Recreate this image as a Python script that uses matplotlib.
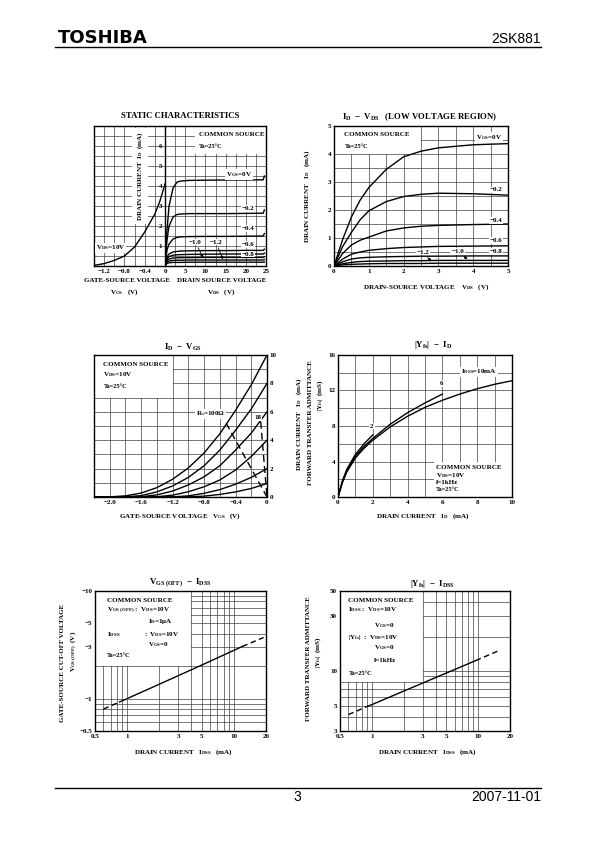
import numpy as np
import matplotlib
matplotlib.use("Agg")
import matplotlib.pyplot as plt
from matplotlib.patches import Rectangle
from matplotlib.lines import Line2D
from matplotlib.ticker import NullFormatter

plt.rcParams['font.family'] = 'Liberation Serif'
plt.rcParams['font.weight'] = 'bold'
plt.rcParams['mathtext.fontset'] = 'custom'
plt.rcParams['mathtext.rm'] = 'Liberation Serif:bold'
plt.rcParams['mathtext.it'] = 'Liberation Serif:italic:bold'
plt.rcParams['mathtext.bf'] = 'Liberation Serif:bold'

# ---- data ----
# static characteristics, left part: ID vs VGS at VDS = 10 V
st_vgs = [-1.4, -1.2, -1.0, -0.8, -0.6, -0.4, -0.2, -0.1, 0.0]
st_id = [0.03, 0.12, 0.28, 0.5, 0.95, 1.7, 2.6, 3.25, 4.1]

# static characteristics, right part: ID vs VDS
st_vds = [0, 0.5, 1, 2, 3, 4, 6, 10, 15, 20, 24.3, 24.6]
st_curves = {
    "0": [0, 1.8, 3.0, 3.9, 4.2, 4.25, 4.28, 4.29, 4.3, 4.3, 4.31, 4.5],
    "-0.2": [0, 1.3, 2.0, 2.45, 2.58, 2.6, 2.62, 2.62, 2.62, 2.63, 2.64, 2.8],
    "-0.4": [0, 0.8, 1.1, 1.35, 1.43, 1.46, 1.47, 1.48, 1.48, 1.49, 1.5, 1.62],
    "-0.6": [0, 0.45, 0.6, 0.7, 0.73, 0.75, 0.76, 0.77, 0.77, 0.78, 0.78, 0.84],
    "-0.8": [0, 0.35, 0.47, 0.54, 0.56, 0.57, 0.58, 0.59, 0.6, 0.6, 0.6, 0.64],
    "-0.9": [0, 0.27, 0.35, 0.4, 0.41, 0.42, 0.42, 0.43, 0.43, 0.43, 0.43, 0.46],
    "-1.0": [0, 0.2, 0.25, 0.28, 0.29, 0.29, 0.3, 0.3, 0.3, 0.3, 0.3, 0.32],
    "-1.2": [0, 0.13, 0.16, 0.18, 0.18, 0.18, 0.19, 0.19, 0.19, 0.19, 0.19, 0.2],
}

# ID - VDS low voltage region
lv_vds = [0, 0.25, 0.5, 0.75, 1, 1.5, 2, 2.5, 3, 4, 5]
lv_curves = {
    "0": [0, 0.95, 1.75, 2.35, 2.8, 3.45, 3.9, 4.1, 4.22, 4.33, 4.37],
    "-0.2": [0, 0.7, 1.2, 1.65, 1.97, 2.3, 2.48, 2.56, 2.6, 2.58, 2.53],
    "-0.4": [0, 0.45, 0.75, 0.92, 1.03, 1.25, 1.36, 1.42, 1.45, 1.48, 1.5],
    "-0.6": [0, 0.25, 0.42, 0.5, 0.56, 0.62, 0.66, 0.68, 0.7, 0.71, 0.72],
    "-0.8": [0, 0.15, 0.25, 0.29, 0.31, 0.33, 0.34, 0.35, 0.35, 0.36, 0.36],
    "-1.0": [0, 0.08, 0.13, 0.16, 0.17, 0.18, 0.19, 0.19, 0.2, 0.2, 0.2],
    "-1.2": [0, 0.04, 0.06, 0.07, 0.08, 0.09, 0.09, 0.09, 0.1, 0.1, 0.1],
}

# ID - VGS for several IDSS
tr_vgs = [-2.2, -2.0, -1.8, -1.6, -1.4, -1.2, -1.0, -0.8, -0.6, -0.4, -0.2, 0.0]
tr_curves = [
    [0, 0.01, 0.08, 0.28, 0.66, 1.25, 2.05, 3.1, 4.45, 6.1, 7.9, 10.0],
    [0, 0, 0.01, 0.1, 0.36, 0.78, 1.38, 2.2, 3.3, 4.7, 6.2, 8.0],
    [0, 0, 0, 0.02, 0.15, 0.42, 0.85, 1.42, 2.2, 3.3, 4.5, 6.0],
    [0, 0, 0, 0, 0.02, 0.13, 0.37, 0.72, 1.2, 1.9, 2.85, 4.0],
    [0, 0, 0, 0, 0, 0.01, 0.08, 0.26, 0.52, 0.9, 1.38, 2.0],
    [0, 0, 0, 0, 0, 0, 0.01, 0.06, 0.18, 0.36, 0.6, 0.95],
]
rs100_vgs = [-0.52, 0.0]
rs100_id = [5.2, 0.0]
rs18_vgs = [-0.08, 0.0]
rs18_id = [5.3, 0.0]

# |Yfs| - ID
yf_id10 = [0, 0.25, 0.5, 1, 1.5, 2, 3, 4, 5, 6, 7, 8, 9, 10]
yf_10 = [0, 1.6, 2.8, 4.4, 5.5, 6.4, 7.9, 9.1, 10.1, 10.9, 11.6, 12.2, 12.7, 13.1]
yf_id6 = [0, 0.25, 0.5, 1, 1.5, 2, 3, 4, 5, 6]
yf_6 = [0, 1.7, 2.9, 4.6, 5.7, 6.6, 8.2, 9.5, 10.6, 11.6]
yf_id2 = [0, 0.25, 0.5, 1, 1.5, 2]
yf_2 = [0, 1.8, 3.1, 4.8, 6.0, 7.0]

# VGS(OFF) - IDSS  (magnitude of VGS(OFF))
off_idss = [0.6, 0.85, 1, 2, 5, 12, 19]
off_vgs = [0.8, 0.93, 1.0, 1.36, 2.05, 3.05, 3.7]

# |Yfs| - IDSS
ys_idss = [0.6, 0.92, 1, 2, 3, 5, 9.5, 16]
ys_yfs = [4.17, 4.95, 5.1, 6.7, 7.85, 9.6, 12.35, 15.2]

W, H = 595, 842
fig = plt.figure(figsize=(W / 100, H / 100), dpi=100)
FS = 5.0
TS = 6.3
BOX = dict(fc='white', ec='none', pad=0.6)
ARROW = dict(arrowstyle='-|>', lw=0.6, color='black', mutation_scale=4)


def axes_px(x0, y0, x1, y1):
    return fig.add_axes([x0 / W, 1 - y1 / H, (x1 - x0) / W, (y1 - y0) / H])


def ftext(x, y, s, **kw):
    kw.setdefault('fontsize', FS)
    fig.text(x / W, 1 - y / H, s, ha=kw.pop('ha', 'center'), va=kw.pop('va', 'center'), **kw)


def style(ax, xt, xl, yt, yl, xg, yg):
    ax.set_xticks(xt)
    ax.set_xticklabels(xl)
    ax.set_yticks(yt)
    ax.set_yticklabels(yl)
    ax.set_xticks(xg, minor=True)
    ax.set_yticks(yg, minor=True)
    ax.xaxis.set_minor_formatter(NullFormatter())
    ax.yaxis.set_minor_formatter(NullFormatter())
    ax.tick_params(which='both', length=0, labelsize=FS, pad=2)
    ax.grid(which='both', color='#404040', lw=0.5)
    ax.set_axisbelow(True)
    for s in ax.spines.values():
        s.set_linewidth(1.0)


def whitebox(ax, x0, y0, x1, y1):
    ax.add_patch(Rectangle((x0, y0), x1 - x0, y1 - y0, fc='white', ec='none', zorder=1))


def neg(vals):
    return ["0" if v == 0 else "\u2212" + f"{abs(v):g}" for v in vals]


LW = 1.0

# ---------- chart 1: static characteristics ----------
a1 = axes_px(94, 126, 165, 266)
a1.set_xlim(-1.4, 0)
a1.set_ylim(0, 7)
style(a1, [-1.2, -0.8, -0.4], ["\u22121.2", "\u22120.8", "\u22120.4"], [], [],
      np.arange(-1.4, 0.01, 0.2), np.arange(0, 7.01, 0.5))
a1.spines['right'].set_visible(False)
a1.plot(st_vgs, st_id, color='black', lw=LW)
a1.text(-1.36, 0.9, r"V$_{\rm DS}$=10V", fontsize=FS, va='center', bbox=BOX)
a1.text(-0.49, 4.5, r"DRAIN CURRENT  I$_{\rm D}$  (mA)", fontsize=FS, rotation=90,
        ha='center', va='center', bbox=dict(fc='white', ec='none', pad=2.5))

b1 = axes_px(165, 126, 266, 266)
b1.set_xlim(0, 25)
b1.set_ylim(0, 7)
style(b1, [0, 5, 10, 15, 20, 25], ["0", "5", "10", "15", "20", "25"],
      [1, 2, 3, 4, 5, 6], ["1", "2", "3", "4", "5", "6"],
      np.arange(0, 25.1, 2.5), np.arange(0, 7.01, 0.5))
b1.set_facecolor('none')
for k, v in st_curves.items():
    b1.plot(st_vds, v, color='black', lw=LW)
whitebox(b1, 7.5, 5.6, 25, 7)
b1.text(8.5, 6.6, "COMMON SOURCE", fontsize=FS, va='center')
b1.text(8.5, 6.0, "Ta=25\u00b0C", fontsize=FS - 0.4, va='center')
b1.text(18.3, 4.57, r"V$_{\rm GS}$=0V", fontsize=FS, ha='center', va='center', bbox=BOX)
b1.text(20.6, 2.87, "\u22120.2", fontsize=FS, ha='center', va='center', bbox=BOX)
b1.text(20.6, 1.87, "\u22120.4", fontsize=FS, ha='center', va='center', bbox=BOX)
b1.text(20.6, 1.07, "\u22120.6", fontsize=FS, ha='center', va='center', bbox=BOX)
b1.text(20.6, 0.6, "\u22120.8", fontsize=FS, ha='center', va='center', bbox=BOX)
b1.annotate("\u22121.0", xy=(9.75, 0.28), xytext=(7.5, 1.2), fontsize=FS, ha='center',
            va='center', bbox=BOX, arrowprops=ARROW)
b1.annotate("\u22121.2", xy=(14.6, 0.2), xytext=(12.6, 1.2), fontsize=FS, ha='center',
            va='center', bbox=BOX, arrowprops=ARROW)
ftext(180, 116, "STATIC CHARACTERISTICS", fontsize=TS)
ftext(127, 280, "GATE-SOURCE VOLTAGE")
ftext(124, 292, r"V$_{\rm GS}$   (V)")
ftext(222, 280, "DRAIN SOURCE VOLTAGE")
ftext(221, 292, r"V$_{\rm DS}$   (V)")

# ---------- chart 2: ID - VDS low voltage ----------
a2 = axes_px(334, 126, 508, 266)
a2.set_xlim(0, 5)
a2.set_ylim(0, 5)
style(a2, range(6), [str(i) for i in range(6)], range(6), [str(i) for i in range(6)],
      np.arange(0, 5.01, 0.5), np.arange(0, 5.01, 0.5))
for k, v in lv_curves.items():
    a2.plot(lv_vds, v, color='black', lw=LW)
whitebox(a2, 0, 4, 2.5, 5)
a2.text(0.3, 4.68, "COMMON SOURCE", fontsize=FS, va='center')
a2.text(0.3, 4.25, "Ta=25\u00b0C", fontsize=FS - 0.4, va='center')
a2.text(4.45, 4.58, r"V$_{\rm GS}$=0V", fontsize=FS, ha='center', va='center', bbox=BOX)
a2.text(4.65, 2.72, "\u22120.2", fontsize=FS, ha='center', va='center', bbox=BOX)
a2.text(4.65, 1.63, "\u22120.4", fontsize=FS, ha='center', va='center', bbox=BOX)
a2.text(4.65, 0.9, "\u22120.6", fontsize=FS, ha='center', va='center', bbox=BOX)
a2.text(4.65, 0.52, "\u22120.8", fontsize=FS, ha='center', va='center', bbox=BOX)
a2.annotate("\u22121.0", xy=(3.9, 0.18), xytext=(3.55, 0.52), fontsize=FS, ha='center',
            va='center', bbox=BOX, arrowprops=ARROW)
a2.annotate("\u22121.2", xy=(2.85, 0.09), xytext=(2.55, 0.5), fontsize=FS, ha='center',
            va='center', bbox=BOX, arrowprops=ARROW)
ftext(420, 117, r"I$_{\rm D}$  $-$  V$_{\rm DS}$   (LOW VOLTAGE REGION)", fontsize=TS)
ftext(426, 287, r"DRAIN-SOURCE VOLTAGE    V$_{\rm DS}$   (V)")
ftext(307, 196, r"DRAIN CURRENT   I$_{\rm D}$   (mA)", rotation=90)

# ---------- chart 3: ID - VGS ----------
a3 = axes_px(94, 355, 267, 497)
a3.set_xlim(-2.2, 0)
a3.set_ylim(0, 10)
xt3 = [-2.0, -1.6, -1.2, -0.8, -0.4, 0]
style(a3, xt3, ["\u22122.0", "\u22121.6", "\u22121.2", "\u22120.8", "\u22120.4", "0"],
      range(0, 11, 2), [str(i) for i in range(0, 11, 2)],
      np.arange(-2.2, 0.01, 0.2), np.arange(0, 10.1, 1))
a3.yaxis.tick_right()
a3.tick_params(which='both', length=0, labelsize=FS, pad=2)
for v in tr_curves:
    a3.plot(tr_vgs, v, color='black', lw=LW)
a3.plot(rs100_vgs, rs100_id, color='black', lw=LW, ls=(0, (5, 3)))
a3.plot(rs18_vgs, rs18_id, color='black', lw=LW, ls=(0, (5, 3)))
whitebox(a3, -2.2, 7, -1.2, 10)
a3.text(-2.08, 9.35, "COMMON SOURCE", fontsize=FS, va='center')
a3.text(-2.08, 8.6, r"V$_{\rm DS}$=10V", fontsize=FS, va='center')
a3.text(-2.08, 7.8, "Ta=25\u00b0C", fontsize=FS - 0.4, va='center')
a3.text(-0.72, 5.85, "R$_{\\rm s}$=100\u03a9", fontsize=FS, ha='center', va='center', bbox=BOX)
a3.text(-0.12, 5.6, "18", fontsize=FS, ha='center', va='center', bbox=BOX)
ftext(183, 347, r"I$_{\rm D}$  $-$  V$_{\rm GS}$", fontsize=TS)
ftext(180, 516, r"GATE-SOURCE VOLTAGE   V$_{\rm GS}$   (V)")
ftext(299, 424, r"DRAIN CURRENT   I$_{\rm D}$   (mA)", rotation=90)

# ---------- chart 4: |Yfs| - ID ----------
a4 = axes_px(338, 355, 512, 497)
a4.set_xlim(0, 10)
a4.set_ylim(0, 16)
style(a4, range(0, 11, 2), [str(i) for i in range(0, 11, 2)],
      range(0, 17, 4), [str(i) for i in range(0, 17, 4)],
      np.arange(0, 10.1, 1), np.arange(0, 16.1, 2))
a4.plot(yf_id10, yf_10, color='black', lw=LW)
a4.plot(yf_id6, yf_6, color='black', lw=LW)
a4.plot(yf_id2, yf_2, color='black', lw=LW)
whitebox(a4, 5.5, 0, 10, 4)
a4.text(5.65, 3.3, "COMMON SOURCE", fontsize=FS, va='center')
a4.text(5.65, 2.45, r"V$_{\rm DS}$=10V", fontsize=FS, va='center')
a4.text(5.65, 1.6, "f=1kHz", fontsize=FS, va='center')
a4.text(5.65, 0.8, "Ta=25\u00b0C", fontsize=FS - 0.4, va='center')
a4.text(8.1, 14.1, r"I$_{\rm DSS}$=10mA", fontsize=FS, ha='center', va='center', bbox=BOX)
a4.text(5.95, 12.8, "6", fontsize=FS, ha='center', va='center', bbox=BOX)
a4.text(1.95, 8.0, "2", fontsize=FS, ha='center', va='center', bbox=BOX)
ftext(433, 345, r"|Y$_{\rm fs}$|  $-$  I$_{\rm D}$", fontsize=TS)
ftext(423, 516, r"DRAIN CURRENT   I$_{\rm D}$   (mA)")
ftext(311, 423, "FORWARD TRANSFER ADMITTANCE", rotation=90)
ftext(320, 395, r"|Y$_{\rm fs}$|  (mS)", rotation=90)

# ---------- chart 5: VGS(OFF) - IDSS ----------
logx = [0.5, 1, 3, 5, 10, 20]
logx_minor = [0.6, 0.7, 0.8, 0.9, 2, 4, 6, 7, 8, 9]
a5 = axes_px(95, 591, 266, 731)
a5.set_xscale('log')
a5.set_yscale('log')
a5.set_xlim(0.5, 20)
a5.set_ylim(0.5, 10)
yt5 = [0.5, 1, 3, 5, 10]
style(a5, logx, [f"{v:g}" for v in logx], yt5, neg(yt5), logx_minor,
      [0.6, 0.7, 0.8, 0.9, 2, 4, 6, 7, 8, 9])
whitebox(a5, 0.5, 2, 4, 10)
a5.plot(off_idss[:2], off_vgs[:2], color='black', lw=LW, ls=(0, (4, 2.5)))
a5.plot(off_idss[1:6], off_vgs[1:6], color='black', lw=LW)
a5.plot(off_idss[5:], off_vgs[5:], color='black', lw=LW, ls=(0, (4, 2.5)))
t5 = a5.transAxes
a5.text(0.07, 0.935, "COMMON SOURCE", fontsize=FS, va='center', transform=t5)
a5.text(0.07, 0.862, r"V$_{\rm GS\ (OFF)}$ :  V$_{\rm DS}$=10V", fontsize=FS, va='center', transform=t5)
a5.text(0.31, 0.78, "I$_{\\rm D}$=1\u03bcA", fontsize=FS, va='center', transform=t5)
a5.text(0.07, 0.69, r"I$_{\rm DSS}$", fontsize=FS, va='center', transform=t5)
a5.text(0.285, 0.69, r":  V$_{\rm DS}$=10V", fontsize=FS, va='center', transform=t5)
a5.text(0.31, 0.617, r"V$_{\rm GS}$=0", fontsize=FS, va='center', transform=t5)
a5.text(0.07, 0.54, "Ta=25\u00b0C", fontsize=FS - 0.4, va='center', transform=t5)
ftext(180, 583, r"V$_{\rm GS\ (OFF)}$  $-$  I$_{\rm DSS}$", fontsize=TS)
ftext(183, 752, r"DRAIN CURRENT   I$_{\rm DSS}$   (mA)")
ftext(63, 663, "GATE-SOURCE CUT-OFF VOLTAGE", rotation=90)
ftext(74, 651, r"V$_{\rm GS\ (OFF)}$  (V)", rotation=90)

# ---------- chart 6: |Yfs| - IDSS ----------
a6 = axes_px(340, 591, 510, 731)
a6.set_xscale('log')
a6.set_yscale('log')
a6.set_xlim(0.5, 20)
a6.set_ylim(3, 50)
yt6 = [3, 5, 10, 30, 50]
style(a6, logx, [f"{v:g}" for v in logx], yt6, [str(v) for v in yt6], logx_minor,
      [4, 6, 7, 8, 9, 20, 40])
whitebox(a6, 0.5, 8.1, 3.05, 50)
a6.plot(ys_idss[:2], ys_yfs[:2], color='black', lw=LW, ls=(0, (4, 2.5)))
a6.plot(ys_idss[1:7], ys_yfs[1:7], color='black', lw=LW)
a6.plot(ys_idss[6:], ys_yfs[6:], color='black', lw=LW, ls=(0, (4, 2.5)))
t6 = a6.transAxes
a6.text(0.05, 0.935, "COMMON SOURCE", fontsize=FS, va='center', transform=t6)
a6.text(0.05, 0.864, r"I$_{\rm DSS}$ :  V$_{\rm DS}$=10V", fontsize=FS, va='center', transform=t6)
a6.text(0.2, 0.752, r"V$_{\rm GS}$=0", fontsize=FS, va='center', transform=t6)
a6.text(0.05, 0.671, r"|Y$_{\rm fs}$|  :  V$_{\rm DS}$=10V", fontsize=FS, va='center', transform=t6)
a6.text(0.2, 0.595, r"V$_{\rm GS}$=0", fontsize=FS, va='center', transform=t6)
a6.text(0.2, 0.5, "f=1kHz", fontsize=FS, va='center', transform=t6)
a6.text(0.05, 0.412, "Ta=25\u00b0C", fontsize=FS - 0.4, va='center', transform=t6)
ftext(433, 584, r"|Y$_{\rm fs}$|  $-$  I$_{\rm DSS}$", fontsize=TS)
ftext(427, 752, r"DRAIN CURRENT   I$_{\rm DSS}$   (mA)")
ftext(308, 659, "FORWARD TRANSFER ADMITTANCE", rotation=90)
ftext(318, 652, r"|Y$_{\rm fs}$|  (mS)", rotation=90)

# ---------- page header / footer ----------
for y in (47, 788):
    fig.add_artist(Line2D([55 / W, 541 / W], [1 - y / H] * 2, transform=fig.transFigure,
                          color='black', lw=1.0))
ftext(58, 43, "TOSHIBA", fontsize=13, fontfamily='DejaVu Sans', fontweight='bold',
      ha='left', va='baseline')
ftext(541, 43, "2SK881", fontsize=10, fontfamily='Liberation Sans', fontweight='normal',
      ha='right', va='baseline')
ftext(297, 801, "3", fontsize=10, fontfamily='Liberation Sans', fontweight='normal',
      va='baseline')
ftext(541, 801, "2007-11-01", fontsize=10, fontfamily='Liberation Sans', fontweight='normal',
      ha='right', va='baseline')

fig.savefig("out.png", dpi=100)
